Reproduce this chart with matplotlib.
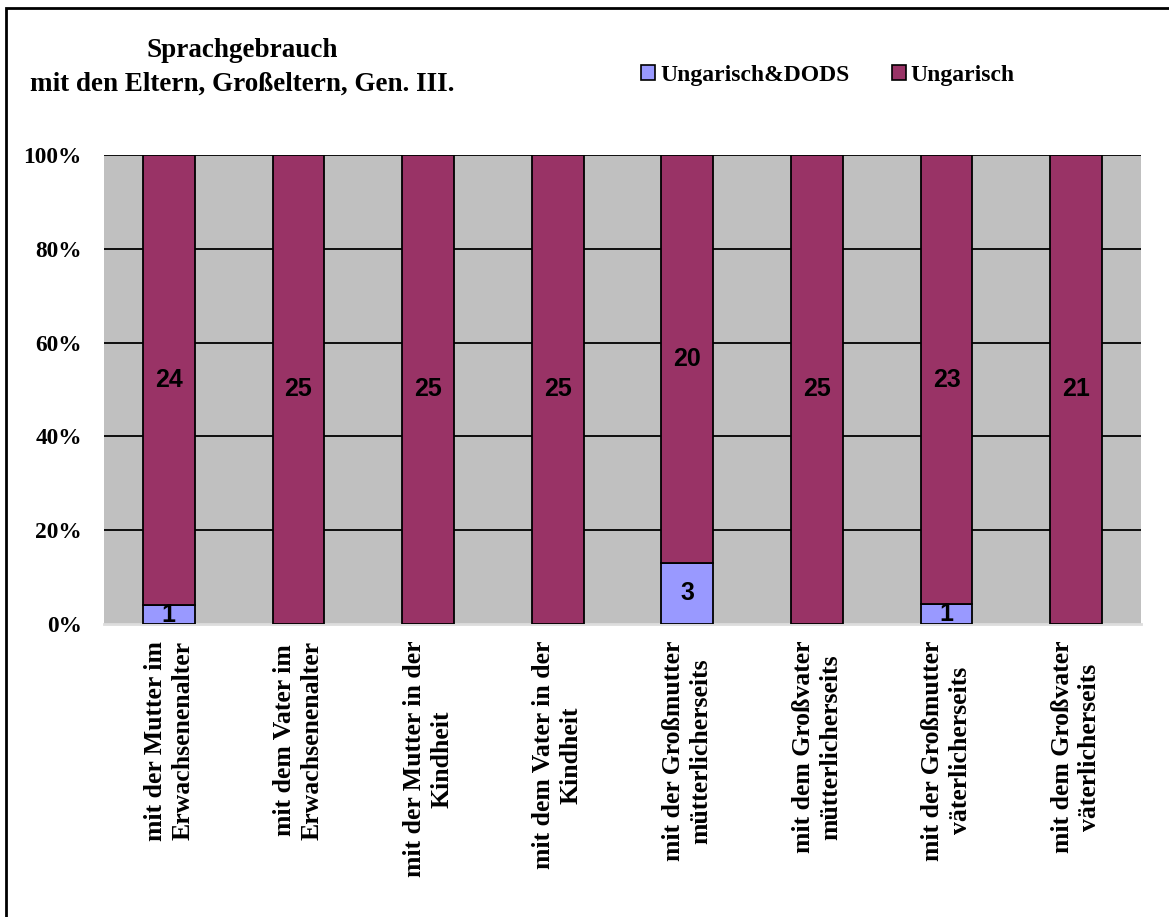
import matplotlib
matplotlib.use("Agg")
import matplotlib.pyplot as plt
import numpy as np
from matplotlib.patches import Patch, Rectangle

# Daten
categories = [
    "mit der Mutter im\nErwachsenenalter",
    "mit dem Vater im\nErwachsenenalter",
    "mit der Mutter in der\nKindheit",
    "mit dem Vater in der\nKindheit",
    "mit der Großmutter\nmütterlicherseits",
    "mit dem Großvater\nmütterlicherseits",
    "mit der Großmutter\nväterlicherseits",
    "mit dem Großvater\nväterlicherseits",
]
ung_dods = [1, 0, 0, 0, 3, 0, 1, 0]
ung = [24, 25, 25, 25, 20, 25, 23, 21]
series_names = ["Ungarisch&DODS", "Ungarisch"]
yticks = [0, 20, 40, 60, 80, 100]

col_blue = "#9999FF"
col_purple = "#993366"
serif = "Liberation Serif"
sans = "Liberation Sans"

W, H = 1169, 917
fig = plt.figure(figsize=(W / 100, H / 100), dpi=100)
ax = fig.add_axes([104 / W, 1 - 624 / H, 1037 / W, 469 / H])
ax.set_facecolor("#C0C0C0")

x = np.arange(len(categories))
tot = np.array(ung_dods) + np.array(ung)
p1 = np.array(ung_dods) / tot * 100
p2 = np.array(ung) / tot * 100

bw = 0.4
ax.bar(x, p1, bw, color=col_blue, edgecolor="black", linewidth=1.3, zorder=3)
ax.bar(x, p2, bw, bottom=p1, color=col_purple, edgecolor="black", linewidth=1.3, zorder=3)

# Beschriftungen in den Balken
for i in range(len(x)):
    if ung_dods[i] > 0:
        ax.text(x[i], p1[i] / 2, str(ung_dods[i]), ha="center", va="center",
                fontsize=18, fontweight="bold", family=sans, zorder=5)
    if ung[i] > 0:
        ax.text(x[i], p1[i] + p2[i] / 2, str(ung[i]), ha="center", va="center",
                fontsize=18, fontweight="bold", family=sans, zorder=5)

# Gitterlinien
for v in yticks[1:]:
    ax.axhline(v, color="black", linewidth=1.3, zorder=1)

ax.set_xlim(-0.5, len(x) - 0.5)
ax.set_ylim(0, 100)
ax.set_yticks(yticks)
ax.set_yticklabels([f"{v}%" for v in yticks], fontsize=16.8, fontweight="bold", family=serif)
ax.set_xticks(x)
ax.set_xticklabels(categories, rotation=90, fontsize=18.5, fontweight="bold", family=serif,
                   va="top", ha="center", multialignment="center", linespacing=1.25)
ax.tick_params(axis="both", length=0)
ax.tick_params(axis="y", pad=16)
ax.tick_params(axis="x", pad=12)
for s in ["top", "left", "right"]:
    ax.spines[s].set_visible(False)
ax.spines["bottom"].set_color("#DDDDDD")
ax.spines["bottom"].set_linewidth(2)

# Titel
fig.text(242 / W, 1 - 67 / H, "Sprachgebrauch\nmit den Eltern, Großeltern, Gen. III.",
         ha="center", va="center", fontsize=19.5, fontweight="bold", family=serif,
         linespacing=1.45)

# Legende
handles = [Patch(facecolor=col_blue, edgecolor="black", linewidth=1.2),
           Patch(facecolor=col_purple, edgecolor="black", linewidth=1.2)]
fig.legend(handles, series_names, loc="center left", bbox_to_anchor=(620 / W, 1 - 75 / H),
           ncol=2, frameon=False, handlelength=0.6, handleheight=0.6,
           handletextpad=0.2, columnspacing=1.8,
           prop={"family": serif, "weight": "bold", "size": 17})

# Rahmen
fig.patches.append(Rectangle((6 / W, -0.1), 1.2, 1.1 - 8 / H, transform=fig.transFigure,
                             fill=False, edgecolor="black", linewidth=2))

fig.savefig("out.png", dpi=100)
